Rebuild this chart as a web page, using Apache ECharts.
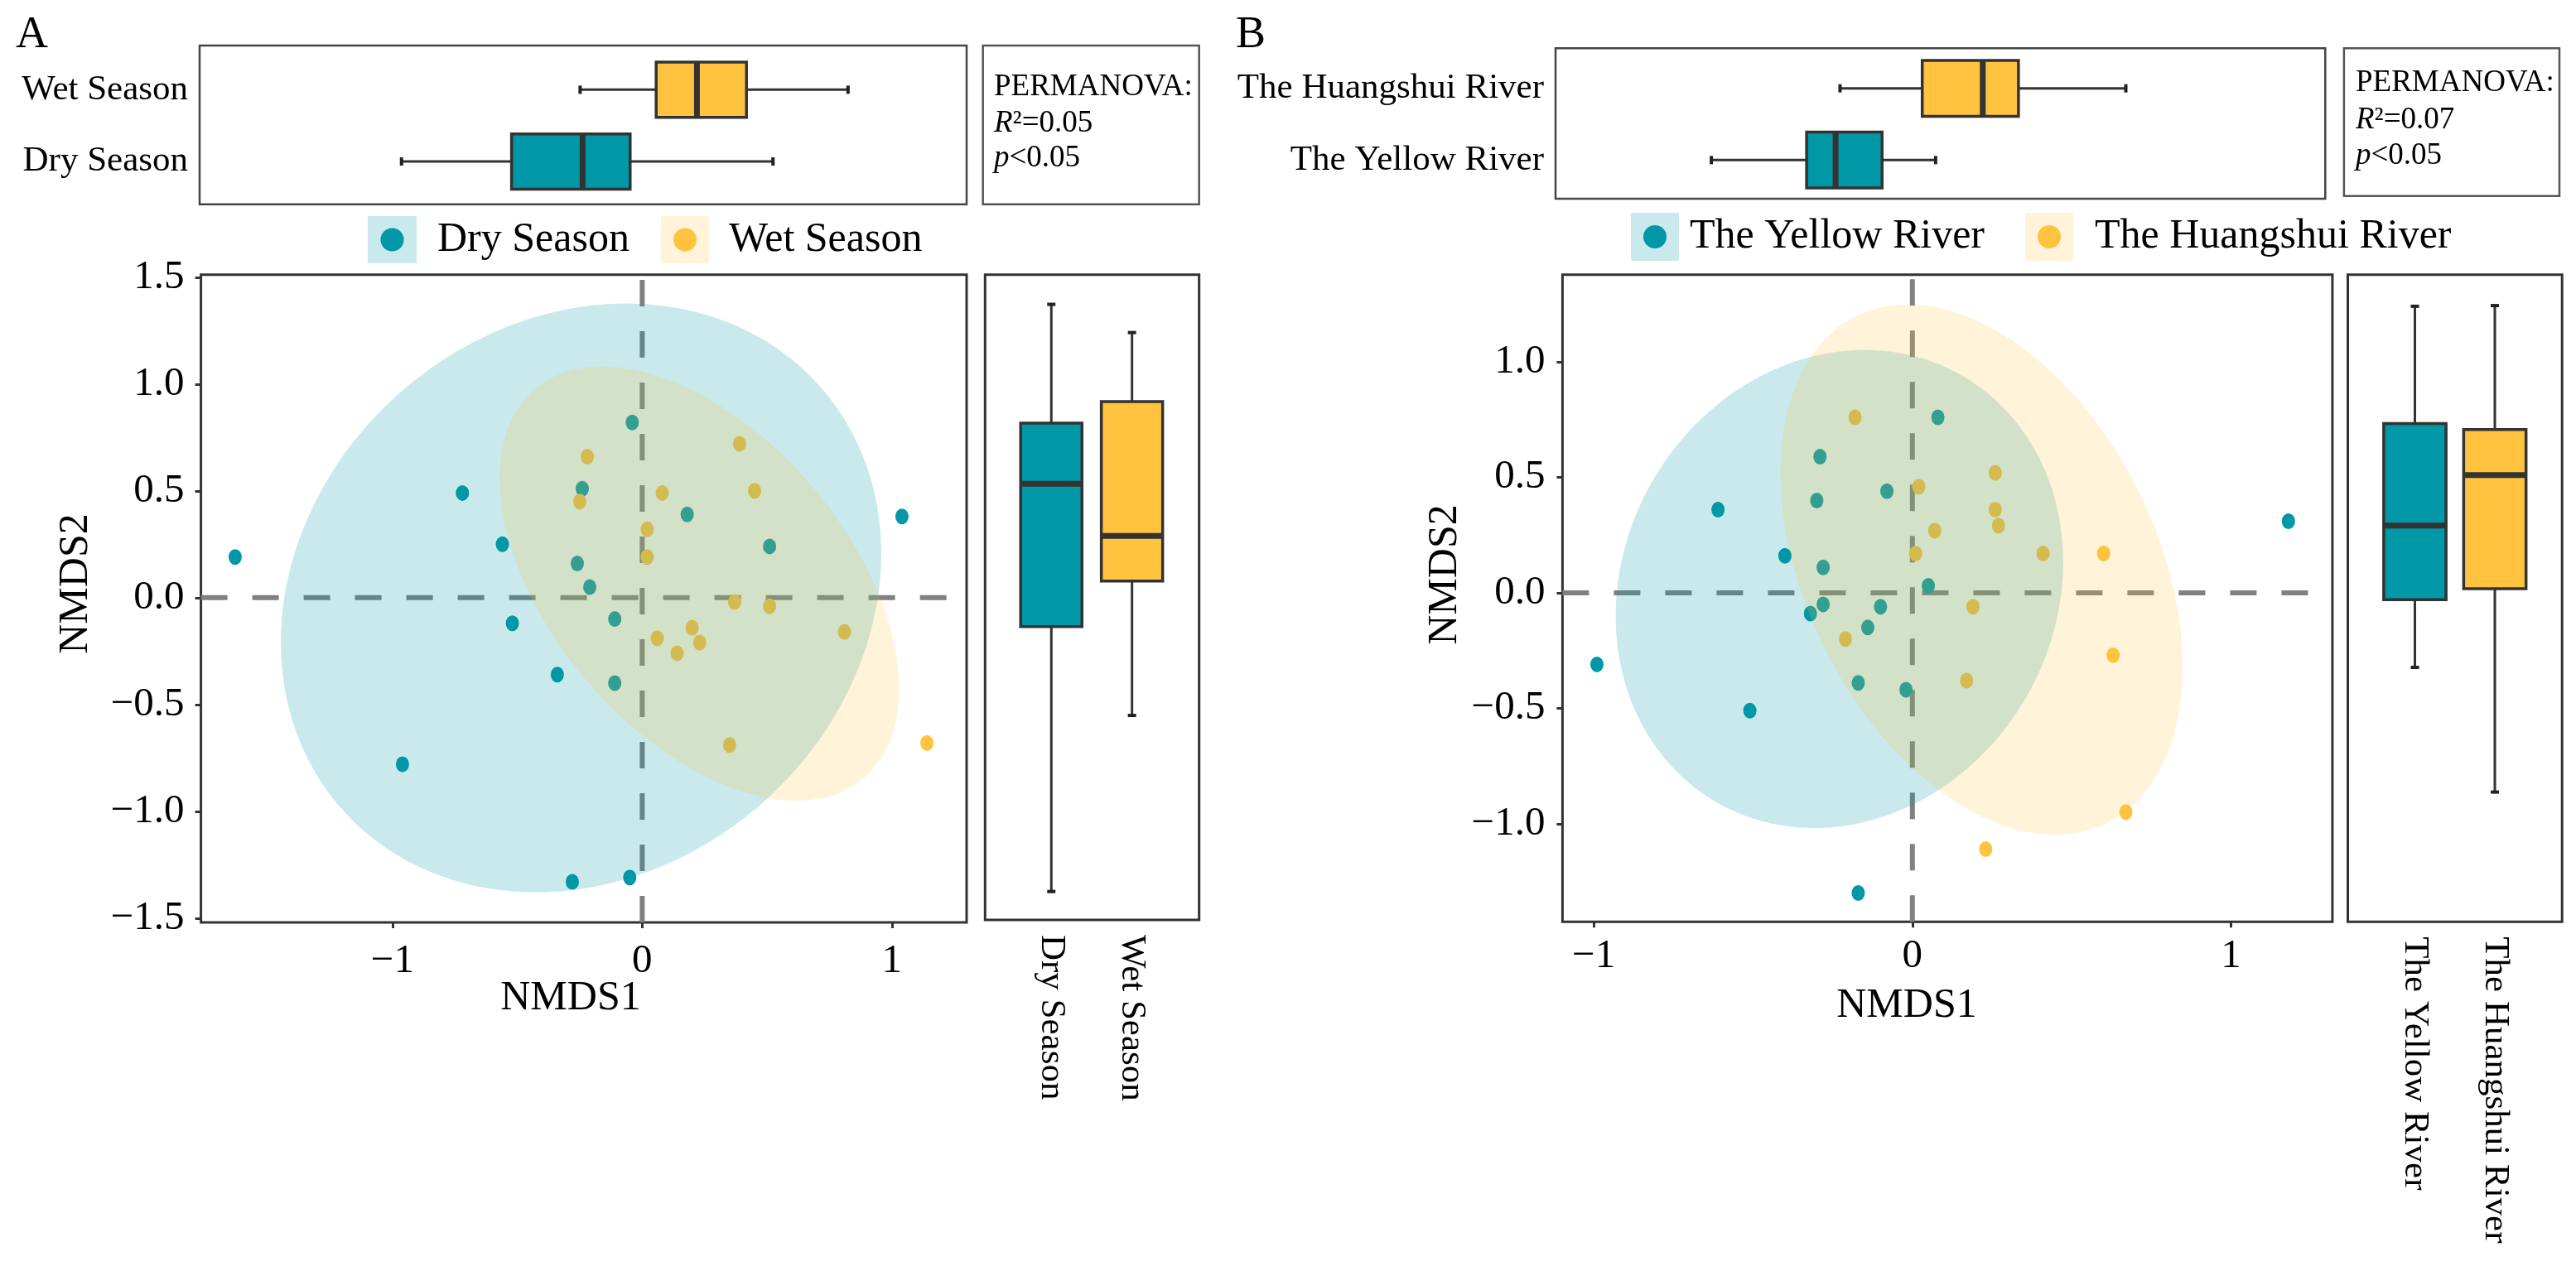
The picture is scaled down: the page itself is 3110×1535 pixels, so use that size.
<!DOCTYPE html>
<html>
<head>
<meta charset="utf-8">
<script src="https://cdn.jsdelivr.net/npm/echarts@6.0.0/dist/echarts.min.js"></script>
<style>
html,body{margin:0;padding:0;background:#fff;}
#chart{width:3110px;height:1535px;}
</style>
</head>
<body>
<div id="chart"></div>
<script>
// ---------------- data ----------------
const seasonNames = ['Dry Season', 'Wet Season'];
const riverNames = ['The Yellow River', 'The Huangshui River'];

// Panel A NMDS scores [NMDS1, NMDS2]
const dryPoints = [[-1.63,0.19],[-0.72,0.49],[-0.56,0.25],[-0.24,0.51],[-0.04,0.82],[0.18,0.39],[1.04,0.38],[0.51,0.24],[-0.26,0.16],[-0.21,0.05],[-0.52,-0.12],[-0.11,-0.10],[-0.34,-0.36],[-0.11,-0.40],[-0.96,-0.78],[-0.28,-1.33],[-0.05,-1.31]];
const wetPoints = [[0.39,0.72],[-0.22,0.66],[0.08,0.49],[0.45,0.50],[-0.25,0.45],[0.02,0.32],[0.02,0.19],[0.37,-0.02],[0.51,-0.04],[0.20,-0.14],[0.81,-0.16],[0.06,-0.19],[0.23,-0.21],[0.14,-0.26],[0.35,-0.69],[1.14,-0.68]];
// Panel B NMDS scores
const yellowRiverPoints = [[0.08,0.76],[-0.29,0.59],[-0.08,0.44],[-0.30,0.40],[-0.61,0.36],[-0.40,0.16],[-0.28,0.11],[0.05,0.03],[-0.28,-0.05],[-0.10,-0.06],[-0.32,-0.09],[-0.14,-0.15],[-0.99,-0.31],[-0.17,-0.39],[-0.02,-0.42],[-0.51,-0.51],[-0.17,-1.30],[1.18,0.31]];
const huangshuiPoints = [[-0.18,0.76],[0.26,0.52],[0.02,0.46],[0.26,0.36],[0.27,0.29],[0.07,0.27],[0.01,0.17],[0.41,0.17],[0.60,0.17],[0.19,-0.06],[-0.21,-0.20],[0.63,-0.27],[0.17,-0.38],[0.67,-0.95],[0.23,-1.11]];

// confidence ellipses: [centerX, centerY, varX, varY, covXY]
const ellipseDry = [-0.245, -0.001, 1.445, 1.899, 0.25];
const ellipseWet = [0.229, 0.066, 0.64, 1.032, -0.395];
const ellipseYellow = [-0.229, 0.0165, 0.493, 1.072, 0.082];
const ellipseHuangshui = [0.217, 0.1005, 0.398, 1.319, -0.265];

// boxplots: [position, min, Q1, median, Q3, max]
const topBoxA = [[1, -0.96, -0.52, -0.236, -0.046, 0.525], [2, -0.246, 0.058, 0.221, 0.419, 0.825]];
const rightBoxA = [[1, -1.375, -0.135, 0.533, 0.817, 1.373], [2, -0.551, 0.078, 0.289, 0.918, 1.241]];
const topBoxB = [[1, -0.609, -0.310, -0.219, -0.073, 0.095], [2, -0.205, 0.053, 0.243, 0.355, 0.692]];
const rightBoxB = [[1, -0.323, -0.030, 0.291, 0.733, 1.241], [2, -0.863, 0.018, 0.510, 0.707, 1.244]];

// axis ticks
const ticksAx = [-1, 0, 1];
const ticksAy = [-1.5, -1, -0.5, 0, 0.5, 1, 1.5];
const ticksBx = [-1, 0, 1];
const ticksBy = [-1, -0.5, 0, 0.5, 1];

// axis limits
const limAx = [-1.767, 1.299];
const limAy = [-1.520, 1.512];
const limBx = [-1.098, 1.318];
const limBy = [-1.425, 1.378];

// PERMANOVA results [R2, p]
const permA = ['0.05', '0.05'];
const permB = ['0.07', '0.05'];

// ---------------- style ----------------
const F = "'Liberation Serif','Times New Roman',serif";
const TEAL = '#0097A7';
const YEL = '#FFC33F';
const TEAL_A = 'rgba(0,151,167,0.21)';
const YEL_A = 'rgba(255,195,63,0.2)';
const groupColors = [TEAL, YEL];

function fmtNum(v, d) {
  const s = Math.abs(v).toFixed(d);
  return (v < 0 ? '\u2212' : '') + s;
}

function ellipseRender(fill) {
  return function (params, api) {
    const cx = api.value(0), cy = api.value(1), sxx = api.value(2), syy = api.value(3), sxy = api.value(4);
    const a = Math.sqrt(sxx), b = sxy / a, c = Math.sqrt(syy - b * b);
    const pts = [];
    const N = 160;
    for (let k = 0; k < N; k++) {
      const t = 2 * Math.PI * k / N;
      pts.push(api.coord([cx + a * Math.cos(t), cy + b * Math.cos(t) + c * Math.sin(t)]));
    }
    return { type: 'polygon', shape: { points: pts }, style: { fill: fill } };
  };
}

function boxRender(horizontal, boxSize) {
  return function (params, api) {
    const pos = api.value(0);
    const v = [1, 2, 3, 4, 5].map(i => api.value(i));
    const col = groupColors[params.dataIndex];
    const P = horizontal ? (val) => api.coord([val, pos]) : (val) => api.coord([pos, val]);
    const pm = v.map(P);
    const half = (horizontal ? api.size([0, boxSize])[1] : api.size([boxSize, 0])[0]) / 2;
    const cap = 5;
    const ls = { stroke: '#333', lineWidth: 3 };
    const cs = { stroke: '#222', lineWidth: 4 };
    const ch = [];
    if (horizontal) {
      const y = pm[0][1];
      ch.push({ type: 'line', shape: { x1: pm[0][0], y1: y, x2: pm[1][0], y2: y }, style: ls });
      ch.push({ type: 'line', shape: { x1: pm[3][0], y1: y, x2: pm[4][0], y2: y }, style: ls });
      ch.push({ type: 'line', shape: { x1: pm[0][0], y1: y - cap, x2: pm[0][0], y2: y + cap }, style: cs });
      ch.push({ type: 'line', shape: { x1: pm[4][0], y1: y - cap, x2: pm[4][0], y2: y + cap }, style: cs });
      ch.push({ type: 'rect', shape: { x: pm[1][0], y: y - half, width: pm[3][0] - pm[1][0], height: 2 * half }, style: { fill: col, stroke: '#333', lineWidth: 3.5 } });
      ch.push({ type: 'line', shape: { x1: pm[2][0], y1: y - half, x2: pm[2][0], y2: y + half }, style: { stroke: '#333', lineWidth: 7 } });
    } else {
      const x = pm[0][0];
      ch.push({ type: 'line', shape: { x1: x, y1: pm[0][1], x2: x, y2: pm[1][1] }, style: ls });
      ch.push({ type: 'line', shape: { x1: x, y1: pm[3][1], x2: x, y2: pm[4][1] }, style: ls });
      ch.push({ type: 'line', shape: { x1: x - cap, y1: pm[0][1], x2: x + cap, y2: pm[0][1] }, style: cs });
      ch.push({ type: 'line', shape: { x1: x - cap, y1: pm[4][1], x2: x + cap, y2: pm[4][1] }, style: cs });
      ch.push({ type: 'rect', shape: { x: x - half, y: pm[3][1], width: 2 * half, height: pm[1][1] - pm[3][1] }, style: { fill: col, stroke: '#333', lineWidth: 3.5 } });
      ch.push({ type: 'line', shape: { x1: x - half, y1: pm[2][1], x2: x + half, y2: pm[2][1] }, style: { stroke: '#333', lineWidth: 7 } });
    }
    return { type: 'group', children: ch };
  };
}

// ---------------- axes ----------------
const hiddenAxis = (min, max, gi) => ({ type: 'value', gridIndex: gi, min: min, max: max, show: false, splitLine: { show: false }, axisLine: { show: false, onZero: false } });

function scatterAxis(dim, gi, lim, ticks, digits, margin) {
  return {
    type: 'value', gridIndex: gi, min: lim[0], max: lim[1],
    position: dim === 'x' ? 'bottom' : 'left',
    splitLine: { show: false },
    axisLine: { show: false, onZero: false },
    axisTick: { show: true, length: 7, inside: false, customValues: ticks, lineStyle: { color: '#333', width: 3 } },
    axisLabel: {
      show: true, customValues: ticks, margin: margin,
      fontSize: 49, fontFamily: F, color: '#000',
      formatter: (v) => fmtNum(v, digits)
    }
  };
}

function catLabelAxis(gi, min, max, names, vertical) {
  const ax = {
    type: 'value', gridIndex: gi, min: min, max: max,
    position: vertical ? 'bottom' : 'left',
    splitLine: { show: false }, axisLine: { show: false, onZero: false }, axisTick: { show: false },
    axisLabel: {
      show: true, customValues: [1, 2], fontSize: 43, fontFamily: F, color: '#000',
      formatter: (v) => names[Math.round(v) - 1]
    }
  };
  if (vertical) { ax.axisLabel.rotate = -90; ax.axisLabel.margin = 18; }
  else { ax.axisLabel.margin = 14; ax.axisLabel.padding = [0, 0, 7, 0]; }
  return ax;
}

const gridBase = { show: true, borderColor: '#333', borderWidth: 3, backgroundColor: 'transparent', containLabel: false };
const grids = [
  Object.assign({}, gridBase, { left: 241, top: 55, width: 926, height: 191.7, borderColor: '#444', borderWidth: 2.5 }),
  Object.assign({}, gridBase, { left: 242.6, top: 331.7, width: 924.4, height: 782.3 }),
  Object.assign({}, gridBase, { left: 1189.3, top: 331.7, width: 258.4, height: 779.3 }),
  Object.assign({}, gridBase, { left: 1878, top: 58.3, width: 929.3, height: 181.7, borderColor: '#444', borderWidth: 2.5 }),
  Object.assign({}, gridBase, { left: 1886.4, top: 331.7, width: 929.5, height: 781.6 }),
  Object.assign({}, gridBase, { left: 2834.5, top: 331.7, width: 258.7, height: 781.6 })
];

const xAxes = [
  hiddenAxis(limAx[0], limAx[1], 0),
  scatterAxis('x', 1, limAx, ticksAx, 0, 23),
  catLabelAxis(2, 0.179, 2.832, seasonNames, true),
  hiddenAxis(limBx[0], limBx[1], 3),
  scatterAxis('x', 4, limBx, ticksBx, 0, 17),
  catLabelAxis(5, 0.161, 2.841, riverNames, true)
];
const yAxes = [
  catLabelAxis(0, 0.404, 2.615, seasonNames, false),
  scatterAxis('y', 1, limAy, ticksAy, 1, 20),
  hiddenAxis(-1.508, 1.512, 2),
  catLabelAxis(3, 0.461, 2.559, riverNames, false),
  scatterAxis('y', 4, limBy, ticksBy, 1, 21),
  hiddenAxis(limBy[0], limBy[1], 5)
];

const dashStyle = { color: '#808080', width: 6, type: [32, 30], cap: 'butt' };
function dashLines(ax, lx, ly) {
  return [
    { type: 'line', xAxisIndex: ax, yAxisIndex: ax, data: [[0, ly[0]], [0, ly[1]]], symbol: 'none', lineStyle: dashStyle, z: 1, silent: true, animation: false },
    { type: 'line', xAxisIndex: ax, yAxisIndex: ax, data: [[lx[0], 0], [lx[1], 0]], symbol: 'none', lineStyle: dashStyle, z: 1, silent: true, animation: false }
  ];
}
function scatterS(name, ax, data, color) {
  return { type: 'scatter', name: name, xAxisIndex: ax, yAxisIndex: ax, data: data, symbol: 'circle', symbolSize: [16, 19], itemStyle: { color: color, opacity: 1 }, z: 2, animation: false };
}
function ellipseS(ax, params, fill, z) {
  return { type: 'custom', xAxisIndex: ax, yAxisIndex: ax, data: [params], dimensions: ['cx', 'cy', 'sxx', 'syy', 'sxy'], encode: { x: 0, y: 1 }, renderItem: ellipseRender(fill), clip: true, silent: true, z: z, animation: false };
}
function boxS(ax, data, horizontal, size) {
  return { type: 'custom', xAxisIndex: ax, yAxisIndex: ax, data: data, renderItem: boxRender(horizontal, size), encode: horizontal ? { y: 0, x: [1, 2, 3, 4, 5] } : { x: 0, y: [1, 2, 3, 4, 5] }, clip: false, silent: true, z: 3, animation: false };
}

const series = [].concat(
  boxS(0, topBoxA, true, 0.77),
  dashLines(1, limAx, limAy),
  scatterS(seasonNames[0], 1, dryPoints, TEAL),
  scatterS(seasonNames[1], 1, wetPoints, YEL),
  ellipseS(1, ellipseDry, TEAL_A, 3),
  ellipseS(1, ellipseWet, YEL_A, 4),
  boxS(2, rightBoxA, false, 0.76),
  boxS(3, topBoxB, true, 0.78),
  dashLines(4, limBx, limBy),
  scatterS(riverNames[0], 4, yellowRiverPoints, TEAL),
  scatterS(riverNames[1], 4, huangshuiPoints, YEL),
  ellipseS(4, ellipseYellow, TEAL_A, 3),
  ellipseS(4, ellipseHuangshui, YEL_A, 4),
  boxS(5, rightBoxB, false, 0.78)
);

// ---------------- text & legend graphics ----------------
function txt(s, x, y, size, opts) {
  return Object.assign({ type: 'text', silent: true, style: Object.assign({ text: s, x: x, y: y, fontSize: size, fontFamily: F, fill: '#000', align: 'left', verticalAlign: 'middle' }, (opts && opts.style) || {}) }, (opts && opts.el) || {});
}
function permText(x, ys, vals) {
  const base = { fontSize: 37, fontFamily: F, fill: '#000' };
  const rich = { i: Object.assign({ fontStyle: 'italic' }, base), n: Object.assign({}, base) };
  return [
    txt('PERMANOVA:', x, ys[0], 37),
    { type: 'text', silent: true, style: { text: '{i|R}{n|\u00B2=' + vals[0] + '}', x: x, y: ys[1], rich: rich, fontSize: 37, fontFamily: F, verticalAlign: 'middle', align: 'left' } },
    { type: 'text', silent: true, style: { text: '{i|p}{n|<' + vals[1] + '}', x: x, y: ys[2], rich: rich, fontSize: 37, fontFamily: F, verticalAlign: 'middle', align: 'left' } }
  ];
}
function legendKey(x, y, w, h, fill, dot, label, tx) {
  return [
    { type: 'rect', silent: true, shape: { x: x, y: y, width: w, height: h }, style: { fill: fill } },
    { type: 'circle', silent: true, shape: { cx: x + w / 2, cy: y + h / 2, r: 14 }, style: { fill: dot } },
    txt(label, tx, y + h / 2, 50)
  ];
}

const graphics = [].concat(
  txt('A', 19, 42.5, 54),
  txt('B', 1492, 42.5, 54),
  [{ type: 'rect', silent: true, shape: { x: 1186.7, y: 55, width: 261, height: 191.7 }, style: { fill: 'none', stroke: '#555', lineWidth: 2.5 } }],
  [{ type: 'rect', silent: true, shape: { x: 2829.9, y: 58.3, width: 260.1, height: 178.4 }, style: { fill: 'none', stroke: '#555', lineWidth: 2.5 } }],
  permText(1200, [105.7, 149, 191], permA),
  permText(2844, [100.7, 145, 188.3], permB),
  legendKey(444, 261, 59, 57, TEAL_A, TEAL, seasonNames[0], 528),
  legendKey(798, 261, 58, 57, YEL_A, YEL, seasonNames[1], 880),
  legendKey(1969, 257, 58, 58, TEAL_A, TEAL, riverNames[0], 2040),
  legendKey(2445, 257, 58, 58, YEL_A, YEL, riverNames[1], 2529),
  txt('NMDS1', 689, 1205.7, 50, { style: { align: 'center' } }),
  txt('NMDS1', 2302, 1214.7, 50, { style: { align: 'center' } }),
  txt('NMDS2', 0, 0, 50, { style: { align: 'center' }, el: { x: 92, y: 705, rotation: Math.PI / 2 } }),
  txt('NMDS2', 0, 0, 50, { style: { align: 'center' }, el: { x: 1745, y: 694, rotation: Math.PI / 2 } })
);

const chart = echarts.init(document.getElementById('chart'), null, { renderer: 'canvas' });
chart.setOption({
  animation: false,
  backgroundColor: '#ffffff',
  textStyle: { fontFamily: F },
  grid: grids,
  xAxis: xAxes,
  yAxis: yAxes,
  series: series,
  graphic: graphics
});
</script>
</body>
</html>
